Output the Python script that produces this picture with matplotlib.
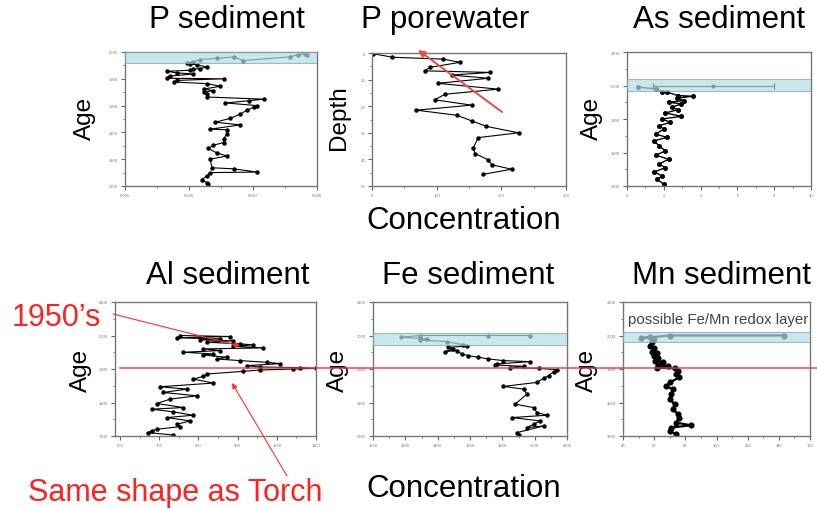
import matplotlib
matplotlib.use("Agg")
import matplotlib.pyplot as plt
from matplotlib.ticker import AutoMinorLocator, FixedLocator
from matplotlib.lines import Line2D
from matplotlib.patches import FancyArrowPatch

plt.rcParams['font.family'] = ['Liberation Sans', 'DejaVu Sans']

# ---------------- data ----------------
# P sediment (concentration vs age)
p_sed_x = [0.00784, 0.00782, 0.00771, 0.00758, 0.00685, 0.00670, 0.00643, 0.00617, 0.00607, 0.00597,
           0.00602, 0.00612, 0.00628, 0.00617, 0.00607, 0.00602, 0.00565, 0.00581, 0.00607, 0.00570,
           0.00565, 0.00654, 0.00581, 0.00576, 0.00628, 0.00649, 0.00623, 0.00638, 0.00623, 0.00628,
           0.00628, 0.00717, 0.00693, 0.00657, 0.00706, 0.00701, 0.00690, 0.00680, 0.00664, 0.00641,
           0.00680, 0.00633, 0.00659, 0.00659, 0.00654, 0.00654, 0.00638, 0.00630, 0.00643, 0.00659,
           0.00633, 0.00636, 0.00670, 0.00706, 0.00633, 0.00628, 0.00620, 0.00628, 0.00630]
p_sed_age = [1994, 1997, 1995, 1991, 1984, 1991, 1988, 1986, 1982, 1980,
             1978, 1976, 1972, 1969, 1968, 1966, 1964, 1961, 1959, 1955,
             1951, 1950, 1947, 1944, 1941, 1936, 1931, 1928, 1925, 1922,
             1916, 1912, 1909, 1905, 1900, 1897, 1891, 1884, 1876, 1869,
             1864, 1856, 1855, 1847, 1838, 1831, 1826, 1820, 1812, 1806,
             1800, 1784, 1782, 1776, 1775, 1769, 1762, 1756, 1753]

# P porewater (concentration vs depth)
p_pw_x = [1.6, 31.6, 110, 136, 89.5, 81.7, 182.6, 123, 180, 102, 195.5, 112.8, 97.2, 154, 68.8,
          131, 154, 177, 226.6, 164.5, 156.7, 159.3, 180, 185, 216, 172]
p_pw_depth = [0.25, 1.6, 2.3, 3.5, 5.4, 6.7, 7.3, 8.3, 9.5, 11.4, 13.6, 15.5, 17.6, 19.6, 21.5,
              23.4, 25.5, 27.6, 30.0, 31.8, 35.6, 37.8, 40.2, 42.0, 43.7, 45.6]

# As sediment
as_x = [0.61, 1.57, 1.9, 2.17, 2.78, 3.57, 2.7, 3.1, 2.26, 2.96, 2.43, 2.78, 2.09, 2.96, 1.91,
        2.35, 1.74, 2.0, 1.57, 2.17, 1.48, 1.74, 2.09, 1.57, 2.26, 1.74, 2.09, 1.48, 1.91, 1.65, 2.0]
as_age = [1995, 1990, 1982, 1980, 1970, 1968, 1962, 1955, 1950, 1945, 1935, 1928, 1918, 1908, 1900,
          1890, 1880, 1870, 1855, 1845, 1835, 1820, 1805, 1792, 1780, 1765, 1755, 1742, 1730, 1720, 1705]
as_err_x = [4.7]
as_err_age = [2000]
as_err = [3.3]

# Al sediment
al_x = [753, 880.5, 744.5, 855, 804, 889, 821, 906, 940, 889, 965.5, 812.5, 855, 761.5, 838,
        812.5, 872, 846.5, 906, 974, 1008, 923, 957, 1059, 1100, 1042, 957, 914.5, 821, 812.5,
        787, 838, 702, 770, 710.5, 795.5, 727.5, 693.5, 761.5, 680.75, 736, 787, 719, 778.5,
        744.5, 753, 693.5, 680.75, 672, 736]
al_age = [2000, 1997, 1993, 1990, 1987, 1984, 1980, 1975, 1972, 1968, 1963, 1960, 1955, 1950, 1945,
          1942, 1935, 1930, 1925, 1920, 1916, 1910, 1906, 1904, 1902, 1900, 1897, 1893, 1885, 1878,
          1870, 1858, 1847, 1840, 1830, 1820, 1810, 1797, 1785, 1780, 1772, 1762, 1755, 1745,
          1735, 1728, 1720, 1715, 1710, 1703]

# Fe sediment
fe_x = [1972, 1714, 1290, 1176, 1331, 1290, 1455, 1559, 1580, 1466, 1497, 1445, 1517, 1548, 1590,
        1652, 1714, 1807, 1972, 1766, 1755, 1931, 1848, 2024, 2138, 2117, 2086, 2055, 2014, 1807,
        1931, 1952, 1879, 1993, 2014, 2076, 1859, 2034, 1993, 1952, 2055, 1890, 1900]
fe_age = [2000, 2000, 2000, 1995, 1990, 1986, 1982, 1972, 1968, 1965, 1960, 1952, 1955, 1945, 1940,
          1935, 1930, 1925, 1922, 1915, 1912, 1908, 1904, 1902, 1898, 1892, 1880, 1872, 1860, 1848,
          1840, 1825, 1795, 1785, 1770, 1762, 1755, 1745, 1735, 1725, 1730, 1710, 1703]

# Mn sediment
mn_x = [143.4, 70.0, 51.4, 57.6, 59.6, 58.6, 57.6, 59.6, 58.6, 61.7, 59.6, 62.7, 60.7, 65.9, 62.7,
        69.0, 61.7, 73.1, 75.2, 74.1, 76.2, 70.0, 67.9, 72.1, 71.0, 70.0, 73.1, 72.1, 75.2, 76.2,
        74.1, 83.4, 71.0, 70.0, 74.1]
mn_age = [2000, 2000, 1992, 1995, 1990, 1980, 1970, 1962, 1952, 1948, 1940, 1932, 1925, 1920, 1912,
          1908, 1904, 1902, 1895, 1885, 1875, 1860, 1848, 1840, 1825, 1810, 1795, 1780, 1765, 1755,
          1740, 1732, 1725, 1715, 1705]

# tick labels
p_sed_xticks = [0.005, 0.006, 0.007, 0.008]
p_sed_yticks = [1750, 1800, 1850, 1900, 1950, 2000]
p_pw_xticks = [0, 100, 200, 300]
p_pw_yticks = [0, 10, 20, 30, 40, 50]
as_xticks = [0, 2, 4, 6, 8, 10]
age_yticks = [1700, 1800, 1900, 2000, 2100]
al_xticks = [600, 700, 800, 900, 1000, 1100]
fe_xticks = [1000, 1200, 1400, 1600, 1800, 2000, 2200]
mn_xticks = [40, 60, 80, 100, 120, 140, 160]

W, H = 817, 510
fig = plt.figure(figsize=(W / 100, H / 100), dpi=100)
fig.patch.set_facecolor('white')

def px_axes(x0, y0, x1, y1):
    return fig.add_axes([x0 / W, 1 - y1 / H, (x1 - x0) / W, (y1 - y0) / H])

BAND_FC = '#b5dde5'
BAND_EC = '#6aaab8'

def style(ax, xt, yt, xlim, ylim, invert=False):
    ax.set_xlim(*xlim)
    ax.set_ylim(*ylim)
    if invert:
        ax.invert_yaxis()
    ax.xaxis.set_major_locator(FixedLocator(xt))
    ax.yaxis.set_major_locator(FixedLocator(yt))
    ax.xaxis.set_minor_locator(AutoMinorLocator(2))
    ax.yaxis.set_minor_locator(AutoMinorLocator(2))
    ax.tick_params(which='both', direction='out', labelsize=3, colors='#666666',
                   labelcolor='#777777', top=False, right=False, pad=2)
    ax.tick_params(which='major', length=3, width=0.8)
    ax.tick_params(which='minor', length=1.5, width=0.6)
    for s in ax.spines.values():
        s.set_color('#777777')
        s.set_linewidth(1.0)

def curve(ax, x, y, ms=2.2, lw=0.8):
    ax.plot(x, y, '-', color='black', lw=lw, marker='o', ms=ms, mfc='black', mec='black', zorder=2)

def band(ax, y0, y1):
    ax.axhspan(y0, y1, facecolor=BAND_FC, edgecolor=BAND_EC, lw=0.8, alpha=0.7, zorder=3)

# P sediment
ax1 = px_axes(125, 53, 317, 187)
curve(ax1, p_sed_x, p_sed_age)
band(ax1, 1980, 2000)
style(ax1, p_sed_xticks, p_sed_yticks, (0.005, 0.008), (1750, 2000))

# P porewater
ax2 = px_axes(372, 54, 566, 187)
curve(ax2, p_pw_x, p_pw_depth)
style(ax2, p_pw_xticks, p_pw_yticks, (0, 300), (0, 50), invert=True)

# As sediment
ax3 = px_axes(627, 53, 811, 187)
curve(ax3, as_x, as_age, ms=2.6, lw=1.0)
ax3.errorbar(as_err_x, as_err_age, xerr=as_err, fmt='o', color='black', ms=2, lw=0.8,
             capsize=2, zorder=2)
band(ax3, 1983, 2018)
style(ax3, as_xticks, age_yticks, (0, 10), (1700, 2100))

# Al sediment
ax4 = px_axes(115, 303, 316, 437)
curve(ax4, al_x, al_age)
style(ax4, al_xticks, age_yticks, (587, 1100), (1700, 2100))

# Fe sediment
ax5 = px_axes(373, 303, 567, 437)
curve(ax5, fe_x, fe_age)
band(ax5, 1972, 2007)
style(ax5, fe_xticks, age_yticks, (1000, 2200), (1700, 2100))

# Mn sediment
ax6 = px_axes(623, 303, 810, 437)
curve(ax6, mn_x, mn_age, ms=3.4, lw=1.6)
band(ax6, 1982, 2010)
style(ax6, mn_xticks, age_yticks, (40, 160), (1700, 2100))
ax6.text(0.025, 0.87, 'possible Fe/Mn redox layer', transform=ax6.transAxes, fontsize=10.8,
         color='#444444', ha='left', va='center', clip_on=False, zorder=5)

# Titles and axis labels (figure pixel positions)
def ftext(x, y, s, size=22.5, color='black', rot=0, ha='center'):
    fig.text(x / W, 1 - y / H, s, fontsize=size, color=color, rotation=rot,
             ha=ha, va='center')

ftext(227, 20, 'P sediment')
ftext(445, 20, 'P porewater')
ftext(719, 20, 'As sediment')
ftext(228, 276, 'Al sediment')
ftext(468, 276, 'Fe sediment')
ftext(721, 276, 'Mn sediment')
ftext(464, 221, 'Concentration')
ftext(464, 489, 'Concentration')

ftext(85, 118, 'Age', size=17.5, rot=90)
ftext(339, 118, 'Depth', size=17.5, rot=90)
ftext(592, 118, 'Age', size=17.5, rot=90)
ftext(81, 370, 'Age', size=17.5, rot=90)
ftext(338, 370, 'Age', size=17.5, rot=90)
ftext(587, 370, 'Age', size=17.5, rot=90)

# Red annotations
ftext(56, 318, "1950\u2019s", size=22, color='#ff2020')
ftext(175, 493, 'Same shape as Torch', size=22, color='#ff2020')

fig.add_artist(Line2D([120 / W, 1.0], [1 - 369 / H, 1 - 369 / H], color='#ff3030',
                      lw=1.2, alpha=0.85, transform=fig.transFigure, zorder=10))

def farrow(x0, y0, x1, y1, lw=0.8, color='#ff3030', ms=8):
    a = FancyArrowPatch((x0 / W, 1 - y0 / H), (x1 / W, 1 - y1 / H),
                        transform=fig.transFigure, arrowstyle='-|>', color=color,
                        lw=lw, mutation_scale=ms, shrinkA=0, shrinkB=0, zorder=20)
    fig.add_artist(a)

farrow(113, 315, 240, 347)
farrow(287, 477, 232, 384)
farrow(502, 113, 418, 51, lw=1.4, color='#f04848', ms=10)

fig.savefig('out.png', dpi=100, facecolor='white')
